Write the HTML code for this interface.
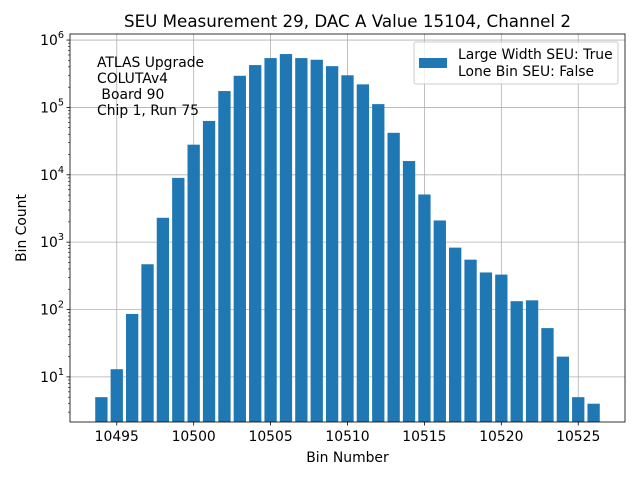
<!DOCTYPE html>
<html><head><meta charset="utf-8"><style>
html,body{margin:0;padding:0;background:#fff;}
svg{display:block;font-family:"DejaVu Sans","Liberation Sans",sans-serif;}
</style></head><body>
<svg id="c" width="640" height="480" xmlns="http://www.w3.org/2000/svg"></svg>
<script>
const bins = [10494,10495,10496,10497,10498,10499,10500,10501,10502,10503,10504,10505,10506,10507,10508,10509,10510,10511,10512,10513,10514,10515,10516,10517,10518,10519,10520,10521,10522,10523,10524,10525,10526];
const counts = [5,13,86,470,2300,9000,28000,63000,175000,295000,425000,540000,620000,540000,510000,410000,300000,220000,112000,42000,16000,5100,2100,830,550,355,330,133,137,53,20,5,4];
const xTicks = [10495,10500,10505,10510,10515,10520,10525];
const yTickExp = [1,2,3,4,5,6];

const L=70,R=625,T=34,B=422;
const xmin=10491.96,xmax=10528.04;
const ymin=Math.log10(2.14),ymax=6.09;
const x=v=>L+(v-xmin)/(xmax-xmin)*(R-L);
const y=v=>B-(Math.log10(v)-ymin)/(ymax-ymin)*(B-T);
const svg=document.getElementById('c');
const NS='http://www.w3.org/2000/svg';
function mk(t,a,p){const e=document.createElementNS(NS,t);for(const k in a)e.setAttribute(k,a[k]);(p||svg).appendChild(e);return e;}

xTicks.forEach(v=>{const g=mk('line',{x1:x(v),x2:x(v),y1:T,y2:B,stroke:'#b0b0b0','stroke-width':0.8});

});
yTickExp.forEach(e=>{const g=mk('line',{x1:L,x2:R,y1:y(Math.pow(10,e)),y2:y(Math.pow(10,e)),stroke:'#b0b0b0','stroke-width':0.8});

});

bins.forEach((b,i)=>{const r=mk('rect',{x:x(b-0.4),width:x(b+0.4)-x(b-0.4),y:y(counts[i]),height:B-y(counts[i]),fill:'#1f77b4'});

});

const fr=mk('rect',{x:L,y:T,width:R-L,height:B-T,fill:'none',stroke:'#000','stroke-width':0.8});



xTicks.forEach(v=>{mk('line',{x1:x(v),x2:x(v),y1:B,y2:B+3.5,stroke:'#000','stroke-width':0.8});
const t=mk('text',{x:x(v),y:B+19,'text-anchor':'middle','font-size':13.9});t.textContent=v;

});
yTickExp.forEach(e=>{const yy=y(Math.pow(10,e));mk('line',{x1:L-3.5,x2:L,y1:yy,y2:yy,stroke:'#000','stroke-width':0.8});
const t=mk('text',{x:L-6,y:yy+5,'text-anchor':'end','font-size':13.9});t.innerHTML='10<tspan dy="-7" font-size="9.7">'+e+'</tspan>';

});
for(let e=0;e<=6;e++)for(let m=2;m<=9;m++){const v=m*Math.pow(10,e);if(Math.log10(v)<ymin||Math.log10(v)>ymax)continue;const yy=y(v);mk('line',{x1:L-2,x2:L,y1:yy,y2:yy,stroke:'#000','stroke-width':0.6});}

function txt(s,a,name){const t=mk('text',a);t.textContent=s;return t;}
txt('SEU Measurement 29, DAC A Value 15104, Channel 2',{x:(L+R)/2,y:27,'text-anchor':'middle','font-size':16.7},'chart-title');
txt('Bin Number',{x:(L+R)/2,y:462,'text-anchor':'middle','font-size':13.9},'x-axis-title');
txt('Bin Count',{x:26,y:(T+B)/2,'text-anchor':'middle','font-size':13.9,transform:'rotate(-90 26 '+(T+B)/2+')'},'y-axis-title');
['ATLAS Upgrade','COLUTAv4',' Board 90','Chip 1, Run 75'].forEach((s,i)=>{const t=txt(s,{x:97,y:67+i*16,'font-size':13.9},'annotation-line');t.style.whiteSpace='pre';});

const lg=mk('rect',{x:414,y:42,width:204,height:42,fill:'#fff','fill-opacity':0.8,stroke:'#cccccc',rx:2});


mk('rect',{x:419,y:58,width:28,height:10,fill:'#1f77b4'});
txt('Large Width SEU: True',{x:458,y:59,'font-size':13.9},'legend-entry');
txt('Lone Bin SEU: False',{x:458,y:76,'font-size':13.9},'legend-entry');
</script>
</body></html>
